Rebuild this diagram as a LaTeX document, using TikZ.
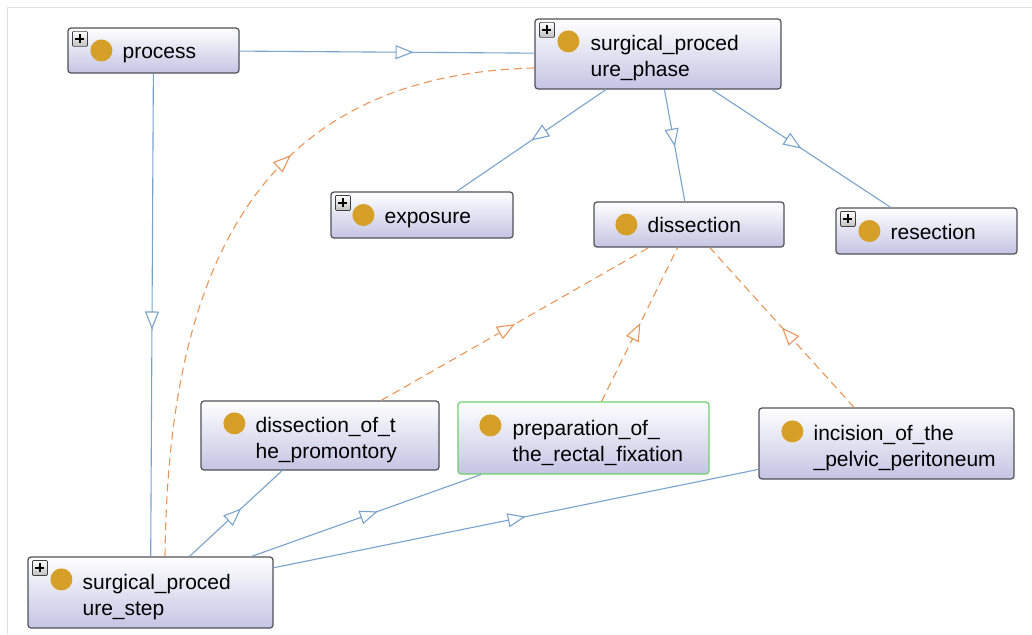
\documentclass[tikz,border=0pt]{standalone}
\usepackage{fontspec}
\setmainfont{Liberation Sans}
\usetikzlibrary{arrows.meta,decorations.markings}
\definecolor{edgeblue}{RGB}{122,163,204}
\definecolor{edgeorange}{RGB}{234,150,90}
\definecolor{boxbottom}{RGB}{196,196,228}
\definecolor{boxborder}{RGB}{80,80,88}
\definecolor{goldc}{RGB}{214,160,40}
\definecolor{framegray}{RGB}{222,222,222}
\definecolor{greenborder}{RGB}{110,210,110}
\tikzset{
 owlbox/.style={rectangle, rounded corners=3pt, draw=boxborder, line width=1.2pt, top color=white, bottom color=boxbottom, inner sep=0pt},
 owltext/.style={anchor=base west, align=left, inner sep=0pt, font=\fontsize{21}{26}\selectfont, text=black},
 owltexttwo/.style={anchor=west, align=left, inner sep=0pt, font=\fontsize{21}{26}\selectfont, text=black},
 isa/.style={edgeblue, draw, line width=1.1pt, postaction={decorate}, decoration={markings, mark=at position #1 with {\arrow{Triangle[length=18pt,width=14pt,fill=white]}}}},
 isa/.default=0.5,
 rel/.style={edgeorange, draw, line width=1.1pt, dash pattern=on 8pt off 5pt, postaction={decorate}, decoration={markings, mark=at position #1 with {\arrow{Triangle[length=18pt,width=14pt,fill=white]}}}},
 rel/.default=0.5,
}
\newcommand\plusicon[1]{%
 \draw[gray!50!black, line width=0.7pt, top color=white, bottom color=gray!50, rounded corners=1pt] ([shift={(5,4)}]#1.north west) rectangle ++(15,15);
 \draw[black, line width=2pt] ([shift={(12.5,7)}]#1.north west) -- ++(0,9) ([shift={(8,11.5)}]#1.north west) -- ++(9,0);
}
\begin{document}
\begin{tikzpicture}[x=1pt,y=-1pt]
\useasboundingbox (0,0) rectangle (1032,634);
\fill[white] (0,0) rectangle (1032,634);
\draw[framegray, line width=1pt] (1032,8) -- (7,8) -- (7,634);

% nodes
\node[owlbox, minimum width=171pt, minimum height=45pt] (process) at (153.5,50.5) {};
\node[owlbox, minimum width=246pt, minimum height=70pt] (phase) at (658,54) {};
\node[owlbox, minimum width=182pt, minimum height=46pt] (exposure) at (422,215) {};
\node[owlbox, minimum width=190pt, minimum height=45pt] (dissection) at (689,224.5) {};
\node[owlbox, minimum width=181pt, minimum height=46pt] (resection) at (926.5,231) {};
\node[owlbox, minimum width=238pt, minimum height=69pt] (promontory) at (320,435.5) {};
\node[owlbox, draw=greenborder, minimum width=251pt, minimum height=72pt] (preparation) at (583.5,438) {};
\node[owlbox, minimum width=255pt, minimum height=71pt] (incision) at (886.5,443.5) {};
\node[owlbox, minimum width=245pt, minimum height=71pt] (step) at (150.5,592.5) {};

% connectors
\draw[isa=0.59] (process) -- (phase);
\draw[isa=0.53] (process) -- (step);
\draw[isa=0.5] (phase) -- (exposure);
\draw[isa=0.51] (phase) -- (dissection);
\draw[isa=0.5] (phase) -- (resection);
\draw[rel=0.5] (promontory) -- (dissection);
\draw[rel=0.51] (preparation) -- (dissection);
\draw[rel=0.5] (incision) -- (dissection);
\draw[isa=0.56] (step) -- (promontory);
\draw[isa=0.55] (step) -- (preparation);
\draw[isa=0.52] (step) -- (incision);
\draw[rel=0.62] ([xshift=14.5pt]step.north) .. controls (168,280) and (250,75) .. ([yshift=-14pt]phase.west);

% labels and icons
\node[owltext] (process-t) at ([shift={(55,8)}]process.west) {process};
\fill[goldc] ([xshift=34pt]process.west) circle (11pt);
\plusicon{process}

\node[owltexttwo] (phase-t) at ([xshift=56pt,yshift=-4.5pt]phase.west) {surgical\_proced\\ure\_phase};
\fill[goldc] ([shift={(34,23)}]phase.north west) circle (11pt);
\plusicon{phase}

\node[owltext] (exposure-t) at ([shift={(54,8)}]exposure.west) {exposure};
\fill[goldc] ([xshift=33pt]exposure.west) circle (11pt);
\plusicon{exposure}

\node[owltext] (dissection-t) at ([shift={(54,8)}]dissection.west) {dissection};
\fill[goldc] ([xshift=33pt]dissection.west) circle (11pt);

\node[owltext] (resection-t) at ([shift={(55,8)}]resection.west) {resection};
\fill[goldc] ([xshift=34pt]resection.west) circle (11pt);
\plusicon{resection}

\node[owltexttwo] (promontory-t) at ([xshift=55pt,yshift=-4.5pt]promontory.west) {dissection\_of\_t\\he\_promontory};
\fill[goldc] ([shift={(34,23)}]promontory.north west) circle (11pt);

\node[owltexttwo] (preparation-t) at ([xshift=55pt,yshift=-4.5pt]preparation.west) {preparation\_of\_\\the\_rectal\_fixation};
\fill[goldc] ([shift={(33,24)}]preparation.north west) circle (11pt);

\node[owltexttwo] (incision-t) at ([xshift=55pt,yshift=-4.5pt]incision.west) {incision\_of\_the\\\_pelvic\_peritoneum};
\fill[goldc] ([shift={(34,24)}]incision.north west) circle (11pt);

\node[owltexttwo] (step-t) at ([xshift=55pt,yshift=-4.5pt]step.west) {surgical\_proced\\ure\_step};
\fill[goldc] ([shift={(34,23)}]step.north west) circle (11pt);
\plusicon{step}
\end{tikzpicture}
\end{document}
